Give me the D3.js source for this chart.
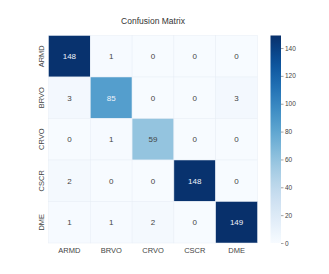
<!DOCTYPE html>
<html>
<head>
<meta charset="utf-8">
<script src="https://cdn.jsdelivr.net/npm/d3@7"></script>
<style>
  body { margin: 0; background: #fff; }
  text { font-family: "Liberation Sans", Arial, sans-serif; }
</style>
</head>
<body>
<script>
// labels and counts (rows = true, cols = predicted)
var classes = ["ARMD", "BRVO", "CRVO", "CSCR", "DME"];
var counts = [
  [148, 1, 0, 0, 0],
  [3, 85, 0, 0, 3],
  [0, 1, 59, 0, 0],
  [2, 0, 0, 148, 0],
  [1, 1, 2, 0, 149]
];
var cbTicks = [0, 20, 40, 60, 80, 100, 120, 140];

var width = 329, height = 274;
var mLeft = 48.5, mTop = 35.5, mRight = 257.5, mBottom = 243;
var vmax = d3.max(counts, function(r){ return d3.max(r); });

var svg = d3.select("body").append("svg")
    .attr("width", width)
    .attr("height", height);

var x = d3.scaleBand().domain(classes).range([mLeft, mRight]);
var y = d3.scaleBand().domain(classes).range([mTop, mBottom]);
var color = d3.scaleSequential(d3.interpolateBlues).domain([0, vmax]);

svg.append("text")
    .attr("x", (mLeft+mRight)/2)
    .attr("y", 24)
    .attr("text-anchor", "middle")
    .style("font-size", "8.5px")
    .style("fill", "#333")
    .text("Confusion Matrix");

var cells = [];
counts.forEach(function(row, i){
  row.forEach(function(v, j){
    cells.push({r: classes[i], c: classes[j], v: v});
  });
});

svg.selectAll(".cell").data(cells).enter().append("rect")
    .attr("class", "cell")
    .attr("x", function(d){ return x(d.c); })
    .attr("y", function(d){ return y(d.r); })
    .attr("width", x.bandwidth())
    .attr("height", y.bandwidth())
    .attr("fill", function(d){ return color(d.v); })
    .attr("stroke", "#e8eef5")
    .attr("stroke-width", 0.5);

svg.selectAll(".val").data(cells).enter().append("text")
    .attr("class", "val")
    .attr("x", function(d){ return x(d.c) + x.bandwidth()/2; })
    .attr("y", function(d){ return y(d.r) + y.bandwidth()/2; })
    .attr("dy", "0.35em")
    .attr("text-anchor", "middle")
    .style("font-size", "8px")
    .style("fill", function(d){ return d.v > vmax*0.5 ? "#eef3fa" : "#444"; })
    .text(function(d){ return d.v; });

// x axis labels
svg.selectAll(".xl").data(classes).enter().append("text")
    .attr("class", "xl")
    .attr("x", function(d){ return x(d) + x.bandwidth()/2; })
    .attr("y", mBottom + 10)
    .attr("text-anchor", "middle")
    .style("font-size", "7.5px")
    .style("fill", "#444")
    .text(function(d){ return d; });

// y axis labels (rotated)
svg.selectAll(".yl").data(classes).enter().append("text")
    .attr("class", "yl")
    .attr("transform", function(d){
      return "translate(" + (mLeft - 5) + "," + (y(d) + y.bandwidth()/2) + ") rotate(-90)";
    })
    .attr("text-anchor", "middle")
    .style("font-size", "7.5px")
    .style("fill", "#444")
    .text(function(d){ return d; });

// colorbar
var cbX = 270.5, cbW = 10.5;
var cbScale = d3.scaleLinear().domain([0, vmax]).range([mBottom, mTop]);

var grad = svg.append("defs").append("linearGradient")
    .attr("id", "cbgrad")
    .attr("x1", "0").attr("y1", "1").attr("x2", "0").attr("y2", "0");
d3.range(0, 1.0001, 0.05).forEach(function(t){
  grad.append("stop")
      .attr("offset", t)
      .attr("stop-color", d3.interpolateBlues(t));
});

svg.append("rect")
    .attr("x", cbX)
    .attr("y", mTop)
    .attr("width", cbW)
    .attr("height", mBottom - mTop)
    .attr("fill", "url(#cbgrad)");

var cbAxis = d3.axisRight(cbScale)
    .tickValues(cbTicks)
    .tickSize(2.5)
    .tickPadding(1.5);

var gAxis = svg.append("g")
    .attr("transform", "translate(" + (cbX + cbW) + ",0)")
    .call(cbAxis);
gAxis.select(".domain").remove();
gAxis.selectAll("line").attr("stroke", "#666").attr("stroke-width", 0.6);
gAxis.selectAll("text")
    .style("font-size", "6.5px")
    .style("fill", "#444")
    .style("font-family", "Liberation Sans, Arial, sans-serif");
</script>
</body>
</html>
